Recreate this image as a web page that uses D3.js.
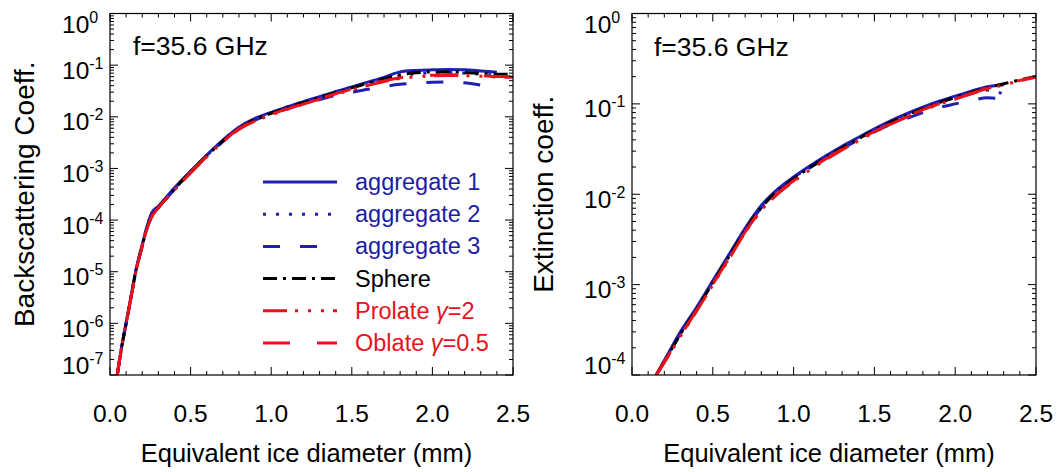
<!DOCTYPE html>
<html>
<head>
<meta charset="utf-8">
<script src="https://cdn.jsdelivr.net/npm/d3@7"></script>
<style>
  body { margin: 0; background: #fff; }
  svg { display: block; }
  text { font-family: "Liberation Sans", Arial, Helvetica, sans-serif; }
</style>
</head>
<body>
<svg id="chart" width="1060" height="472"></svg>
<script>
// ---- Backscattering coefficient at 35.6 GHz vs equivalent ice diameter (mm) ----
const bscDiam = [0.045,0.07,0.1,0.13,0.16,0.2,0.23,0.26,0.3,0.4,0.5,0.6,0.7,0.8,0.9,1.0,1.1,1.2,1.3,1.4,1.5,1.6,1.7,1.8,1.9,2.0,2.1,2.2,2.3,2.4,2.5];
const bscAgg1 = [1.0e-7,3.2e-7,1.02e-6,3.25e-6,1.05e-5,3.35e-5,7.6e-5,1.4e-4,1.85e-4,4.2e-4,8.9e-4,1.82e-3,3.55e-3,6.3e-3,9.3e-3,1.22e-2,1.56e-2,1.97e-2,2.45e-2,3.05e-2,3.8e-2,4.7e-2,5.8e-2,7.4e-2,7.9e-2,8.1e-2,8.2e-2,8.1e-2,7.7e-2,7.3e-2,null];
const bscAgg2 = [1.0e-7,3.18e-7,1.01e-6,3.2e-6,1.03e-5,3.25e-5,7.4e-5,1.3e-4,1.8e-4,4.1e-4,8.7e-4,1.78e-3,3.47e-3,6.2e-3,9.1e-3,1.2e-2,1.55e-2,1.96e-2,2.45e-2,3.05e-2,3.75e-2,4.55e-2,5.4e-2,6.2e-2,6.8e-2,7.1e-2,7.2e-2,7.0e-2,6.7e-2,6.4e-2,null];
const bscAgg3 = [1.0e-7,3.15e-7,1.0e-6,3.16e-6,1.0e-5,3.16e-5,7.1e-5,1.2e-4,1.72e-4,3.92e-4,8.35e-4,1.7e-3,3.3e-3,5.85e-3,8.6e-3,1.12e-2,1.43e-2,1.77e-2,2.15e-2,2.6e-2,3.0e-2,3.4e-2,3.85e-2,4.25e-2,4.5e-2,4.65e-2,4.7e-2,4.55e-2,4.1e-2,3.4e-2,null];
const bscSphere = [1.0e-7,3.16e-7,1.0e-6,3.16e-6,1.0e-5,3.16e-5,7.1e-5,1.2e-4,1.74e-4,3.98e-4,8.5e-4,1.74e-3,3.39e-3,6.03e-3,8.9e-3,1.17e-2,1.51e-2,1.9e-2,2.37e-2,2.95e-2,3.63e-2,4.47e-2,5.4e-2,6.5e-2,7.1e-2,7.4e-2,7.4e-2,7.2e-2,6.9e-2,6.7e-2,6.6e-2];
const bscProlate = [1.0e-7,3.1e-7,9.8e-7,3.1e-6,9.8e-6,3.1e-5,6.9e-5,1.17e-4,1.7e-4,3.85e-4,8.2e-4,1.67e-3,3.25e-3,5.7e-3,8.3e-3,1.09e-2,1.39e-2,1.76e-2,2.2e-2,2.72e-2,3.33e-2,4.05e-2,4.8e-2,5.5e-2,5.95e-2,6.2e-2,6.3e-2,6.25e-2,6.1e-2,5.9e-2,5.8e-2];
const bscOblate = [1.0e-7,3.12e-7,9.9e-7,3.12e-6,9.9e-6,3.12e-5,7.0e-5,1.18e-4,1.72e-4,3.9e-4,8.3e-4,1.7e-3,3.3e-3,5.85e-3,8.6e-3,1.12e-2,1.42e-2,1.8e-2,2.25e-2,2.8e-2,3.42e-2,4.15e-2,4.95e-2,5.7e-2,6.15e-2,6.4e-2,6.5e-2,6.45e-2,6.25e-2,6.0e-2,6.0e-2];

// ---- Extinction coefficient at 35.6 GHz vs equivalent ice diameter (mm) ----
const extDiam = [0.15,0.2,0.25,0.3,0.4,0.5,0.6,0.7,0.8,0.9,1.0,1.1,1.2,1.3,1.4,1.5,1.6,1.7,1.8,1.9,2.0,2.1,2.2,2.3,2.4,2.5];
const extAgg1 = [1.0e-4,1.45e-4,2.1e-4,3.0e-4,5.6e-4,1.1e-3,2.15e-3,4.2e-3,7.5e-3,1.13e-2,1.55e-2,2.05e-2,2.66e-2,3.4e-2,4.25e-2,5.3e-2,6.5e-2,7.8e-2,9.2e-2,1.07e-1,1.22e-1,1.38e-1,1.55e-1,1.63e-1,null,null];
const extAgg2 = [1.0e-4,1.43e-4,2.05e-4,2.95e-4,5.5e-4,1.08e-3,2.1e-3,4.1e-3,7.3e-3,1.1e-2,1.52e-2,2.02e-2,2.62e-2,3.35e-2,4.2e-2,5.2e-2,6.35e-2,7.6e-2,9.0e-2,1.04e-1,1.18e-1,1.32e-1,1.42e-1,1.28e-1,null,null];
const extAgg3 = [1.0e-4,1.42e-4,2.0e-4,2.9e-4,5.4e-4,1.06e-3,2.06e-3,4.0e-3,7.1e-3,1.07e-2,1.48e-2,1.96e-2,2.53e-2,3.2e-2,3.98e-2,4.9e-2,5.9e-2,6.9e-2,8.0e-2,9.1e-2,1.0e-1,1.09e-1,1.17e-1,1.12e-1,null,null];
const extSphere = [1.0e-4,1.41e-4,2.0e-4,2.85e-4,5.35e-4,1.05e-3,2.04e-3,3.98e-3,7.1e-3,1.08e-2,1.48e-2,1.97e-2,2.56e-2,3.27e-2,4.1e-2,5.1e-2,6.25e-2,7.5e-2,8.85e-2,1.03e-1,1.18e-1,1.34e-1,1.51e-1,1.67e-1,1.84e-1,2.02e-1];
const extProlate = [1.0e-4,1.38e-4,1.92e-4,2.68e-4,5.1e-4,9.9e-4,1.92e-3,3.75e-3,6.6e-3,1.0e-2,1.38e-2,1.85e-2,2.42e-2,3.1e-2,3.9e-2,4.85e-2,5.95e-2,7.15e-2,8.5e-2,9.9e-2,1.13e-1,1.29e-1,1.46e-1,1.62e-1,1.8e-1,1.98e-1];
const extOblate = [1.0e-4,1.39e-4,1.94e-4,2.7e-4,5.2e-4,1.01e-3,1.96e-3,3.82e-3,6.75e-3,1.02e-2,1.41e-2,1.89e-2,2.47e-2,3.16e-2,3.98e-2,4.95e-2,6.05e-2,7.3e-2,8.65e-2,1.0e-1,1.15e-1,1.31e-1,1.48e-1,1.64e-1,1.82e-1,2.0e-1];

// ---- axes and labels ----
const xTickValues = [0, 0.5, 1.0, 1.5, 2.0, 2.5];
const xTickLabels = ["0.0", "0.5", "1.0", "1.5", "2.0", "2.5"];
const bscDecades = [1e-7, 1e-6, 1e-5, 1e-4, 1e-3, 1e-2, 1e-1, 1e0];
const extDecades = [1e-4, 1e-3, 1e-2, 1e-1, 1e0];
const seriesNames = ["aggregate 1", "aggregate 2", "aggregate 3", "Sphere", "Prolate γ=2", "Oblate γ=0.5"];
const freqLabel = "f=35.6 GHz";
const xTitle = "Equivalent ice diameter (mm)";

// ---- styling ----
const BLUE = "#1f1fb4", RED = "#e8121c", BLACK = "#000";
const seriesStyle = [
  { color: BLUE,  text: "#1c1ca6", dash: null },
  { color: BLUE,  text: "#1c1ca6", dash: "3,10" },
  { color: BLUE,  text: "#1c1ca6", dash: "17,20" },
  { color: BLACK, text: BLACK,     dash: "14,6,3,6" },
  { color: RED,   text: RED,       dash: "24,8,3,10,3,10,3,9" },
  { color: RED,   text: RED,       dash: "27,27" }
];

const svg = d3.select("#chart");

function drawPanel(opt) {
  const { x0, x1, y0, y1, diam, series, decades, yTitle, yTitleX, labelX, freqX, freqY, legend, id } = opt;
  const x = d3.scaleLinear().domain([0, 2.5]).range([x0, x1]);
  const y = d3.scaleLog().domain([decades[0], decades[decades.length - 1]]).range([y1, y0]);
  const g = svg.append("g");

  g.append("clipPath").attr("id", id).append("rect")
    .attr("x", x0).attr("y", y0).attr("width", x1 - x0).attr("height", y1 - y0);

  // curves
  const line = d3.line()
    .defined(d => d[1] != null)
    .x(d => x(d[0])).y(d => y(d[1]))
    .curve(d3.curveMonotoneX);
  const curves = g.append("g").attr("clip-path", `url(#${id})`);
  series.forEach((vals, i) => {
    const pts = diam.map((dv, k) => [dv, vals[k]]);
    curves.append("path")
      .attr("d", line(pts))
      .attr("fill", "none")
      .attr("stroke", seriesStyle[i].color)
      .attr("stroke-width", 3)
      .attr("stroke-linejoin", "round")
      .attr("stroke-dasharray", seriesStyle[i].dash);
  });

  // frame
  g.append("rect").attr("x", x0).attr("y", y0).attr("width", x1 - x0).attr("height", y1 - y0)
    .attr("fill", "none").attr("stroke", "#000").attr("stroke-width", 1.2);

  // x ticks (major every 0.5, minor every 0.1), mirrored on top
  const xMinor = d3.range(0, 26).map(k => k / 10);
  const ticks = g.append("g").attr("stroke", "#000").attr("stroke-width", 1);
  xMinor.forEach(v => {
    const major = Math.abs(v * 2 - Math.round(v * 2)) < 1e-6;
    const len = major ? 8 : 4;
    const px = x(v);
    ticks.append("line").attr("x1", px).attr("x2", px).attr("y1", y1).attr("y2", y1 - len);
    ticks.append("line").attr("x1", px).attr("x2", px).attr("y1", y0).attr("y2", y0 + len);
  });
  // y ticks: decades major, 2..9 minor, mirrored on right
  for (let k = 0; k < decades.length; k++) {
    const dv = decades[k];
    const py = y(dv);
    ticks.append("line").attr("x1", x0).attr("x2", x0 + 8).attr("y1", py).attr("y2", py);
    ticks.append("line").attr("x1", x1).attr("x2", x1 - 8).attr("y1", py).attr("y2", py);
    if (k < decades.length - 1) {
      for (let m = 2; m <= 9; m++) {
        const pm = y(dv * m);
        ticks.append("line").attr("x1", x0).attr("x2", x0 + 4).attr("y1", pm).attr("y2", pm);
        ticks.append("line").attr("x1", x1).attr("x2", x1 - 4).attr("y1", pm).attr("y2", pm);
      }
    }
  }

  // x tick labels
  xTickValues.forEach((v, i) => {
    g.append("text").attr("x", x(v)).attr("y", 422)
      .attr("text-anchor", "middle").attr("font-size", 24.5).attr("fill", "#000")
      .text(xTickLabels[i]);
  });

  // y tick labels: 10 with superscript exponent
  decades.forEach(dv => {
    const exp = Math.round(Math.log10(dv));
    const cy = Math.max(y0 + 11, Math.min(y1 - 10, y(dv) + 5));
    const t = g.append("text").attr("x", labelX).attr("y", cy + 8.5)
      .attr("font-size", 24.5).attr("fill", "#000");
    t.append("tspan").text("10");
    t.append("tspan").attr("dy", -10).attr("font-size", 16).text(String(exp));
  });

  // axis titles
  g.append("text").attr("x", (x0 + x1) / 2 - 5).attr("y", 462)
    .attr("text-anchor", "middle").attr("font-size", 25.5).attr("fill", "#000").text(xTitle);
  g.append("text")
    .attr("transform", `translate(${yTitleX},${(y0 + y1) / 2}) rotate(-90)`)
    .attr("text-anchor", "middle").attr("font-size", 28).attr("fill", "#000").text(yTitle);

  // frequency annotation
  g.append("text").attr("x", freqX).attr("y", freqY).attr("font-size", 26.5).attr("fill", "#000").text(freqLabel);

  // legend
  if (legend) {
    const lx0 = 263, lx1 = 337, tx = 355;
    seriesNames.forEach((name, i) => {
      const ly = 182 + 32.2 * i;
      g.append("line").attr("x1", lx0).attr("x2", lx1).attr("y1", ly).attr("y2", ly)
        .attr("stroke", seriesStyle[i].color).attr("stroke-width", 3)
        .attr("stroke-dasharray", seriesStyle[i].dash);
      const t = g.append("text").attr("x", tx).attr("y", ly + 8)
        .attr("font-size", 23.5).attr("fill", seriesStyle[i].text);
      const parts = name.split("γ");
      t.append("tspan").text(parts[0]);
      if (parts.length > 1) {
        t.append("tspan").attr("font-style", "italic").text("γ");
        t.append("tspan").text(parts[1]);
      }
    });
  }
}

drawPanel({
  id: "clipBsc", x0: 110, x1: 513, y0: 13.5, y1: 375,
  diam: bscDiam,
  series: [bscAgg1, bscAgg2, bscAgg3, bscSphere, bscProlate, bscOblate],
  decades: bscDecades, yTitle: "Backscattering Coeff.", yTitleX: 34,
  labelX: 62, freqX: 133, freqY: 55, legend: true
});

drawPanel({
  id: "clipExt", x0: 632, x1: 1036, y0: 13.5, y1: 375,
  diam: extDiam,
  series: [extAgg1, extAgg2, extAgg3, extSphere, extProlate, extOblate],
  decades: extDecades, yTitle: "Extinction coeff.", yTitleX: 553,
  labelX: 584, freqX: 654, freqY: 56, legend: false
});
</script>
</body>
</html>
